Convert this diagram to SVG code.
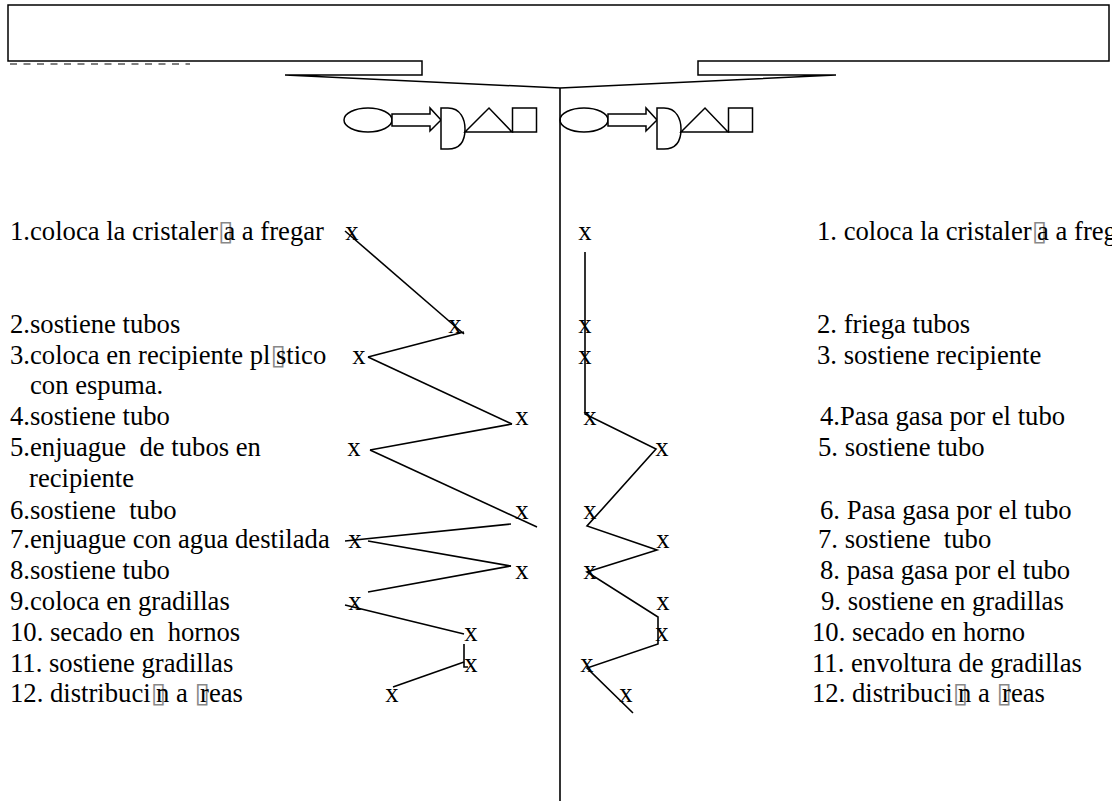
<svg xmlns="http://www.w3.org/2000/svg" width="1112" height="801" viewBox="0 0 1112 801">
<style>
.t{font-family:"Liberation Serif","Times New Roman",serif;font-size:26.67px;fill:#000;white-space:pre}
.x{font-family:"Liberation Serif","Times New Roman",serif;font-size:26.67px;fill:#000;text-anchor:middle}
.tofu{font-family:"DejaVu Sans",sans-serif;font-size:28px;fill:#888;letter-spacing:-10px}
.ln{stroke:#000;stroke-width:1.6;fill:none}
.sh{stroke:#000;stroke-width:1.5;fill:#fff}
</style>
<rect width="1112" height="801" fill="#fff"/>
<g id="header">
<path class="sh" d="M8,5 H1109 V61 H698 V75 H836 L560,88 L285,75 H422 V61 H8 Z"/>
<line x1="10" y1="64" x2="190" y2="64" stroke="#555" stroke-width="1.5" stroke-dasharray="7 6.5"/>
</g>
<g id="symbols-left">
<ellipse class="sh" cx="368" cy="120" rx="24" ry="12"/>
<path class="sh" d="M392,114 H430 V108 L441,120 L430,131 V126 H392 Z"/>
<path class="sh" d="M441,108 H448 C461,108 465,120 465,129 C465,140 461,149 448,149 H441 Z"/>
<path class="sh" d="M465,132 L489,108 L512,132 Z"/>
<rect class="sh" x="512.5" y="108" width="24" height="24"/>
</g>
<g id="symbols-right">
<ellipse class="sh" cx="584" cy="120" rx="24" ry="12"/>
<path class="sh" d="M608,114 H646 V108 L657,120 L646,131 V126 H608 Z"/>
<path class="sh" d="M657,108 H664 C677,108 681,120 681,129 C681,140 677,149 664,149 H657 Z"/>
<path class="sh" d="M681,132 L705,108 L728,132 Z"/>
<rect class="sh" x="728.5" y="108" width="24" height="24"/>
</g>
<g id="divider"><line class="ln" x1="560" y1="88" x2="560" y2="801"/></g>
<g id="left-items">
<g id="L1"><text class="t" x="10" y="240">1.coloca la cristaler<tspan class="tofu">▯</tspan>a a fregar</text><text class="x" x="352" y="240">x</text></g>
<g id="L2"><text class="t" x="10" y="333">2.sostiene tubos</text><text class="x" x="455" y="333">x</text></g>
<g id="L3"><text class="t" x="10" y="364">3.coloca en recipiente pl<tspan class="tofu">▯</tspan>stico</text><text class="t" x="30" y="394">con espuma.</text><text class="x" x="359" y="364">x</text></g>
<g id="L4"><text class="t" x="10" y="425">4.sostiene tubo</text><text class="x" x="522" y="425">x</text></g>
<g id="L5"><text class="t" x="10" y="456">5.enjuague  de tubos en</text><text class="t" x="29" y="487">recipiente</text><text class="x" x="354" y="456">x</text></g>
<g id="L6"><text class="t" x="10" y="519">6.sostiene  tubo</text><text class="x" x="522" y="519">x</text></g>
<g id="L7"><text class="t" x="10" y="548">7.enjuague con agua destilada</text><text class="x" x="355" y="548">x</text></g>
<g id="L8"><text class="t" x="10" y="579">8.sostiene tubo</text><text class="x" x="522" y="579">x</text></g>
<g id="L9"><text class="t" x="10" y="610">9.coloca en gradillas</text><text class="x" x="355" y="610">x</text></g>
<g id="L10"><text class="t" x="10" y="641">10. secado en  hornos</text><text class="x" x="471" y="641">x</text></g>
<g id="L11"><text class="t" x="10" y="672">11. sostiene gradillas</text><text class="x" x="471" y="672">x</text></g>
<g id="L12"><text class="t" x="10" y="702">12. distribuci<tspan class="tofu">▯</tspan>n a <tspan class="tofu">▯</tspan>reas</text><text class="x" x="392" y="702">x</text></g>
</g>
<g id="right-items">
<g id="R1"><text class="t" x="817" y="240">1. coloca la cristaler<tspan class="tofu">▯</tspan>a a freg</text><text class="x" x="585" y="240">x</text></g>
<g id="R2"><text class="t" x="817" y="333">2. friega tubos</text><text class="x" x="585" y="333">x</text></g>
<g id="R3"><text class="t" x="817" y="364">3. sostiene recipiente</text><text class="x" x="585" y="364">x</text></g>
<g id="R4"><text class="t" x="820" y="425">4.Pasa gasa por el tubo</text><text class="x" x="590" y="425">x</text></g>
<g id="R5"><text class="t" x="818" y="456">5. sostiene tubo</text><text class="x" x="662" y="456">x</text></g>
<g id="R6"><text class="t" x="820" y="519">6. Pasa gasa por el tubo</text><text class="x" x="590" y="519">x</text></g>
<g id="R7"><text class="t" x="818" y="548">7. sostiene  tubo</text><text class="x" x="663" y="548">x</text></g>
<g id="R8"><text class="t" x="820" y="579">8. pasa gasa por el tubo</text><text class="x" x="590" y="579">x</text></g>
<g id="R9"><text class="t" x="821" y="610">9. sostiene en gradillas</text><text class="x" x="663" y="610">x</text></g>
<g id="R10"><text class="t" x="812" y="641">10. secado en horno</text><text class="x" x="662" y="641">x</text></g>
<g id="R11"><text class="t" x="812" y="672">11. envoltura de gradillas</text><text class="x" x="587" y="672">x</text></g>
<g id="R12"><text class="t" x="812" y="702">12. distribuci<tspan class="tofu">▯</tspan>n a <tspan class="tofu">▯</tspan>reas</text><text class="x" x="626" y="702">x</text></g>
</g>
<g id="connectors">
<line class="ln" x1="345" y1="231" x2="464" y2="334"/>
<line class="ln" x1="464" y1="332" x2="368" y2="357"/>
<line class="ln" x1="368" y1="357" x2="512" y2="424"/>
<line class="ln" x1="512" y1="424" x2="370" y2="450"/>
<line class="ln" x1="370" y1="450" x2="537" y2="527"/>
<line class="ln" x1="511" y1="524" x2="345" y2="541"/>
<line class="ln" x1="368" y1="541" x2="511" y2="566"/>
<line class="ln" x1="511" y1="566" x2="368" y2="592"/>
<line class="ln" x1="345" y1="605" x2="464" y2="634"/>
<polyline class="ln" points="464,644 464,667 468,667"/>
<line class="ln" x1="464" y1="662" x2="393" y2="687"/>
<polyline class="ln" points="585,252 585,414 656,449 587,526 657,550 587,572 658,617 658,644 587,668 633,713"/>
</g>
</svg>
